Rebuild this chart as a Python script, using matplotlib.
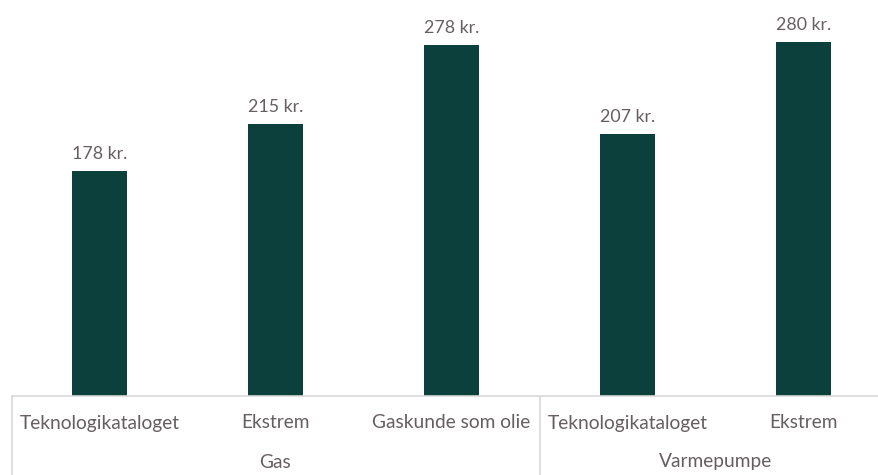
import matplotlib.pyplot as plt
import matplotlib.transforms as mtransforms

# data
categories = ['Teknologikataloget', 'Ekstrem', 'Gaskunde som olie',
              'Teknologikataloget', 'Ekstrem']
groups = ['Gas', 'Varmepumpe']
group_sizes = [3, 2]
values = [178, 215, 278, 207, 280]

bar_color = '#0b403d'
text_color = '#665e60'
line_color = '#d9d9d9'

plt.rcParams['font.family'] = ['Lato', 'DejaVu Sans']

fig = plt.figure(figsize=(8.79, 4.75), dpi=100)
# axes is a bit wider than the figure, the right edge is cut like in the original
ax = fig.add_axes([11.5 / 879, 79 / 475, 880 / 879, 396 / 475])

x = list(range(len(values)))
bars = ax.bar(x, values, width=0.318, color=bar_color)

for xi, v in zip(x, values):
    ax.annotate(f'{v} kr.', (xi, v), xytext=(0, 9), textcoords='offset pixels',
                ha='center', va='bottom', fontsize=12.8, color=text_color)

ax.set_xlim(-0.5, len(values) - 0.5)
ax.set_ylim(0, 313.3)

for s in ['top', 'right', 'left']:
    ax.spines[s].set_visible(False)
ax.spines['bottom'].set_color(line_color)
ax.spines['bottom'].set_linewidth(1.2)
ax.set_xticks([])
ax.set_yticks([])

trans = mtransforms.blended_transform_factory(ax.transData, ax.transAxes)

# category labels
for xi, c in zip(x, categories):
    ax.text(xi, -27 / 396, c, transform=trans, ha='center', va='center',
            fontsize=13.8, color=text_color)

# group labels and separators
start = 0
seps = [-0.5]
for g, n in zip(groups, group_sizes):
    mid = start + (n - 1) / 2
    ax.text(mid, -66 / 396, g, transform=trans, ha='center', va='center',
            fontsize=13.8, color=text_color)
    start += n
    seps.append(start - 0.5)

for s in seps:
    ax.plot([s, s], [0, -0.25], transform=trans, color=line_color,
            linewidth=1.2, clip_on=False)

fig.savefig('out.png', dpi=100)
